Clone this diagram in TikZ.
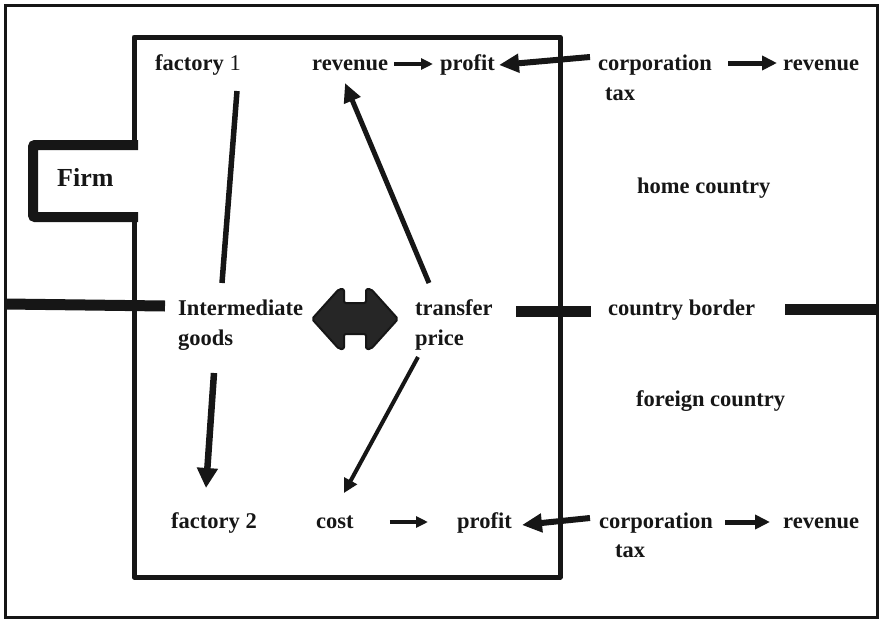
\documentclass[tikz,border=0pt]{standalone}
\usepackage{fontspec}
\setmainfont{Liberation Serif}
\usetikzlibrary{arrows.meta,calc}
\definecolor{ink}{RGB}{22,22,22}
\definecolor{arrfill}{RGB}{38,38,38}
\tikzset{
  lbl/.style={inner sep=0pt, anchor=base west, text=ink,
    font=\fontsize{22.5}{27}\selectfont\bfseries},
  arrA/.style={draw=ink, line width=3.6pt, -{Triangle[length=12pt,width=11pt]}},
  arrB/.style={draw=ink, line width=5pt, -{Triangle[length=15pt,width=14pt]}},
  arrC/.style={draw=ink, line width=6pt, -{Triangle[length=20pt,width=18pt]}},
  arrD/.style={draw=ink, line width=5pt, -{Triangle[length=19pt,width=17pt]}},
  arrE/.style={draw=ink, line width=6.5pt, -{Triangle[length=20pt,width=20pt]}},
  arrF/.style={draw=ink, line width=4pt, -{Triangle[length=14pt,width=14pt]}},
  plainline/.style={draw=ink, line width=5.5pt},
  borderline/.style={draw=ink, line width=11pt},
}
\begin{document}
\begin{tikzpicture}[x=1pt,y=-1pt]
\useasboundingbox (0,0) rectangle (879,619);
% outer frame
\draw[ink, line width=3pt] (5.5,5.5) rectangle (877.5,617.5);
% inner firm box
\draw[ink, line width=5pt, line join=round] (134,145) -- (134,37) -- (560,37) -- (560,577) -- (134,577) -- (134,217);
% firm bracket
\draw[ink, line width=10pt, rounded corners=2pt] (138,145) -- (33,145) -- (33,217) -- (138,217);
% country border
\draw[borderline] (6,304) -- (165,306);
\draw[borderline] (516,311) -- (591,311);
\draw[borderline] (785,309) -- (879,309);
% double arrow
\filldraw[fill=arrfill, draw=ink, line width=2pt, rounded corners=2pt, line join=round]
  (312,319) -- (339,289) -- (344,289) -- (344,303) -- (366,303) -- (366,289) -- (371,289)
  -- (398,319) -- (371,349) -- (366,349) -- (366,334) -- (344,334) -- (344,349) -- (339,349) -- cycle;
% labels
\node[lbl] (f1) at (155,70) {factory \textmd{1}};
\node[lbl] (rev1) at (312,70) {revenue};
\node[lbl] (prof1) at (440,70) {profit};
\node[lbl] (corp1) at (598,70) {corporation};
\node[lbl] (tax1) at (605,100) {tax};
\node[lbl] (rev2) at (783,70) {revenue};
\node[lbl, font=\fontsize{26}{30}\selectfont\bfseries] (firm) at (57,186) {Firm};
\node[lbl] (home) at (637,193) {home country};
\node[lbl] (im) at (178,315) {Intermediate};
\node[lbl] (im2) at (178,345) {goods};
\node[lbl] (tp) at (415,315) {transfer};
\node[lbl] (tp2) at (415,345) {price};
\node[lbl] (cb) at (608,315) {country border};
\node[lbl] (fc) at (636,406) {foreign country};
\node[lbl] (f2) at (171,528) {factory 2};
\node[lbl] (cost) at (316,528) {cost};
\node[lbl] (prof2) at (457,528) {profit};
\node[lbl] (corp2) at (599,528) {corporation};
\node[lbl] (tax2) at (615,557) {tax};
\node[lbl] (rev3) at (783,528) {revenue};
% connectors
\draw[arrA] ($(rev1.base east)+(6,-6)$) -- ($(prof1.base west)+(-7,-6)$);
\draw[arrC] ($(corp1.base west)+(-8,-13)$) -- ($(prof1.base east)+(4,-5)$);
\draw[arrB] ($(corp1.base east)+(16,-7)$) -- ($(rev2.base west)+(-6,-7)$);
\draw[plainline] ($(f1.base east)+(-4,21)$) -- ($(im.base west)+(44,-32)$);
\draw[arrD] ($(tp.base west)+(14,-32)$) -- ($(rev1.base west)+(33,13)$);
\draw[arrE] ($(im2.base west)+(36,28)$) -- ($(f2.base west)+(35,-40)$);
\draw[arrF] ($(tp2.base west)+(3,12)$) -- ($(cost.base west)+(28,-35)$);
\draw[arrA] ($(cost.base east)+(36,-6)$) -- ($(prof2.base west)+(-29,-6)$);
\draw[arrC] ($(corp2.base west)+(-9,-10)$) -- ($(prof2.base east)+(10,-3)$);
\draw[arrB] ($(corp2.base east)+(12,-6)$) -- ($(rev3.base west)+(-13,-6)$);
\end{tikzpicture}
\end{document}
